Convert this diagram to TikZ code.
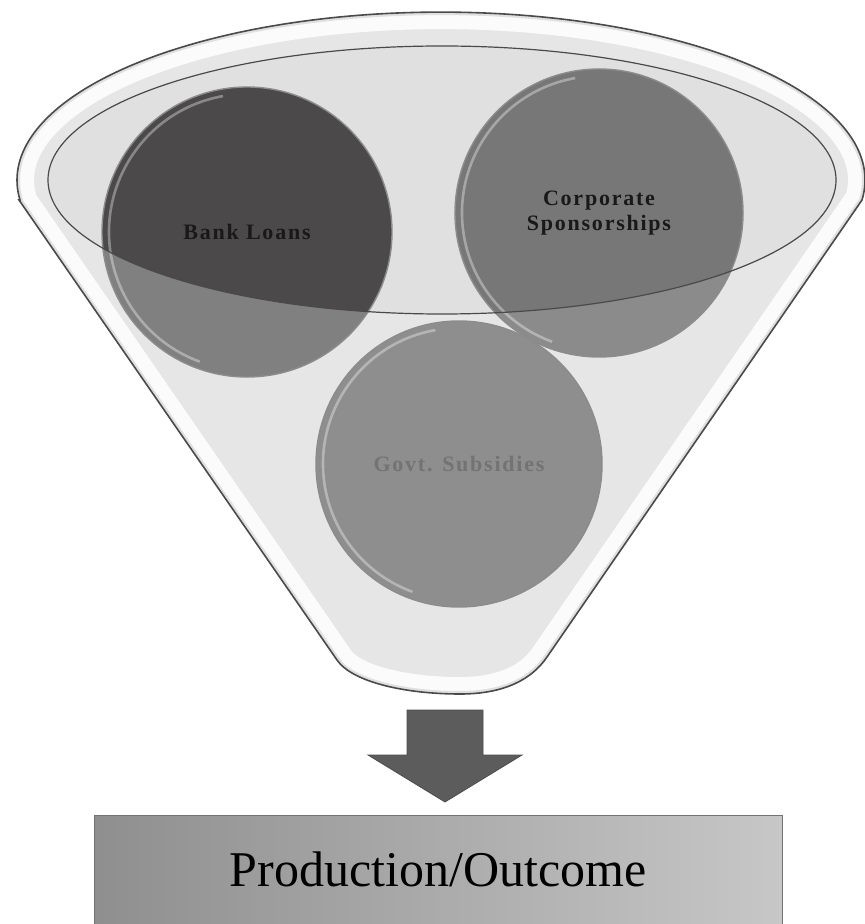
\documentclass[tikz,border=0pt]{standalone}
\usepackage{fontspec}
\setmainfont{Liberation Serif}
\definecolor{funnelfill}{HTML}{E6E6E6}
\definecolor{mouthfill}{HTML}{E0E0E0}
\definecolor{edgeline}{HTML}{4A4A4A}
\definecolor{bankup}{HTML}{4B4949}
\definecolor{banklow}{HTML}{808080}
\definecolor{corpup}{HTML}{777777}
\definecolor{corplow}{HTML}{8B8B8B}
\definecolor{govtfill}{HTML}{8E8E8E}
\definecolor{arrowfill}{HTML}{5C5C5C}
\pgfdeclarelayer{bg}
\pgfsetlayers{bg,main}
\begin{document}
\begin{tikzpicture}[x=0.5pt,y=-0.5pt,
  disc/.style={circle, inner sep=0pt, minimum size=#1, align=center,
    font=\fontsize{11}{12.5}\selectfont\bfseries\addfontfeature{LetterSpace=8}},
  rimline/.style={edgeline, line width=0.8pt},
  bevel/.style={white, opacity=0.35, line width=1.3pt},
  discedge/.style={black!45, line width=0.7pt}]
\useasboundingbox (0,0) rectangle (864,924);

% funding sources
\node[disc=145pt, text=black!90] (bank) at (247,232) {Bank Loans};
\node[disc=144pt, text=black!90] (corp) at (599,213) {Corporate\\Sponsorships};
\node[disc=143pt, text=black!55] (govt) at (459,464) {Govt. Subsidies};

% arrow and outcome box
\fill[arrowfill, draw=black!70, line width=0.4pt]
  (407,710) -- (483,710) -- (483,755) -- (522,755) -- (445,802)
  -- (368,755) -- (407,755) -- cycle;
\node[rectangle, minimum width=344pt, minimum height=54.5pt,
  left color=black!44, right color=black!22, draw=black!55, line width=0.4pt,
  font=\fontsize{25}{29}\selectfont] (outcome) at (438,869.5) {Production/Outcome};

\begin{pgfonlayer}{bg}
  % funnel body
  \path[save path=\funnelshape]
    (19,200) -- (337,660) .. controls (352,682) and (405,694) .. (460,694)
    .. controls (505,694) and (532,679) .. (547,657) -- (862,200)
    arc[start angle=-6.8, end angle=186.8, x radius=212pt, y radius=84pt] -- cycle;
  \fill[funnelfill, use path=\funnelshape];
  \begin{scope}
    \clip[use path=\funnelshape];
    \draw[white, opacity=0.85, line width=17pt, use path=\funnelshape];
    \draw[black!12, line width=3pt, use path=\funnelshape];
  \end{scope}
  \fill[mouthfill] (442,180) ellipse[x radius=197pt, y radius=67pt];

  % discs, lighter below the mouth, darker inside it
  \fill[banklow] (bank.center) circle[radius=72.5pt];
  \fill[corplow] (corp.center) circle[radius=72pt];
  \fill[govtfill] (govt.center) circle[radius=71.5pt];
  \begin{scope}
    \clip (442,180) ellipse[x radius=197pt, y radius=67pt];
    \fill[bankup] (bank.center) circle[radius=72.5pt];
    \fill[corpup] (corp.center) circle[radius=72pt];
  \end{scope}
  \draw[discedge] (bank.center) circle[radius=72.5pt];
  \draw[discedge] (corp.center) circle[radius=72pt];
  \draw[discedge] (govt.center) circle[radius=71.5pt];
  \begin{scope}[shift={(bank.center)}]
    \draw[bevel] (100:69pt) arc[start angle=100, end angle=250, radius=69pt];
  \end{scope}
  \begin{scope}[shift={(corp.center)}]
    \draw[bevel] (100:68.5pt) arc[start angle=100, end angle=250, radius=68.5pt];
  \end{scope}
  \begin{scope}[shift={(govt.center)}]
    \draw[bevel] (100:68pt) arc[start angle=100, end angle=250, radius=68pt];
  \end{scope}

  % mouth rim and funnel outline
  \draw[rimline, line width=0.6pt] (442,180) ellipse[x radius=197pt, y radius=67pt];
  \draw[rimline, use path=\funnelshape];
\end{pgfonlayer}
\end{tikzpicture}
\end{document}
